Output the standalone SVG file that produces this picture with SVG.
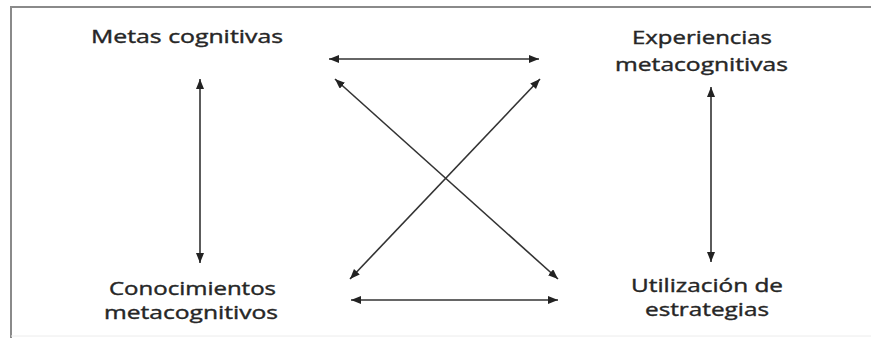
<svg xmlns="http://www.w3.org/2000/svg" width="871" height="338" viewBox="0 0 871 338">
<style>
.lbl{font-family:"Open Sans","Liberation Sans",sans-serif;font-size:18.5px;fill:#262626;stroke:#262626;stroke-width:0.4;}
.edge{stroke:#333;stroke-width:1.6;fill:none;marker-start:url(#ah);marker-end:url(#ah);}
.frame{stroke:#8a8a8a;stroke-width:2;fill:none;}
</style>
<defs>
<marker id="ah" markerUnits="userSpaceOnUse" markerWidth="11" markerHeight="9" refX="10" refY="4" orient="auto-start-reverse">
<path d="M0,0 L10,4 L0,8 z" fill="#222"/>
</marker>
</defs>
<rect width="871" height="338" fill="#fff"/>
<g id="frame">
<path class="frame" d="M11,338 V7 H871"/>
<line x1="11" y1="336" x2="871" y2="336" stroke="#ececec" stroke-width="1"/>
</g>
<g id="metas">
<text class="lbl" x="91" y="43" textLength="192" lengthAdjust="spacingAndGlyphs">Metas cognitivas</text>
</g>
<g id="experiencias">
<text class="lbl" x="632" y="44" textLength="140" lengthAdjust="spacingAndGlyphs">Experiencias</text>
<text class="lbl" x="615" y="71" textLength="173" lengthAdjust="spacingAndGlyphs">metacognitivas</text>
</g>
<g id="conocimientos">
<text class="lbl" x="109" y="295" textLength="167" lengthAdjust="spacingAndGlyphs">Conocimientos</text>
<text class="lbl" x="104" y="319" textLength="174" lengthAdjust="spacingAndGlyphs">metacognitivos</text>
</g>
<g id="utilizacion">
<text class="lbl" x="631" y="292" textLength="152" lengthAdjust="spacingAndGlyphs">Utilización de</text>
<text class="lbl" x="645" y="316" textLength="124" lengthAdjust="spacingAndGlyphs">estrategias</text>
</g>
<g id="connectors">
<line class="edge" x1="200" y1="79" x2="200" y2="263"/>
<line class="edge" x1="711" y1="87" x2="711" y2="262"/>
<line class="edge" x1="329" y1="59" x2="539" y2="59"/>
<line class="edge" x1="351" y1="300" x2="558" y2="300"/>
<line class="edge" x1="335" y1="79" x2="558" y2="279"/>
<line class="edge" x1="540" y1="79" x2="350" y2="279"/>
</g>
</svg>
